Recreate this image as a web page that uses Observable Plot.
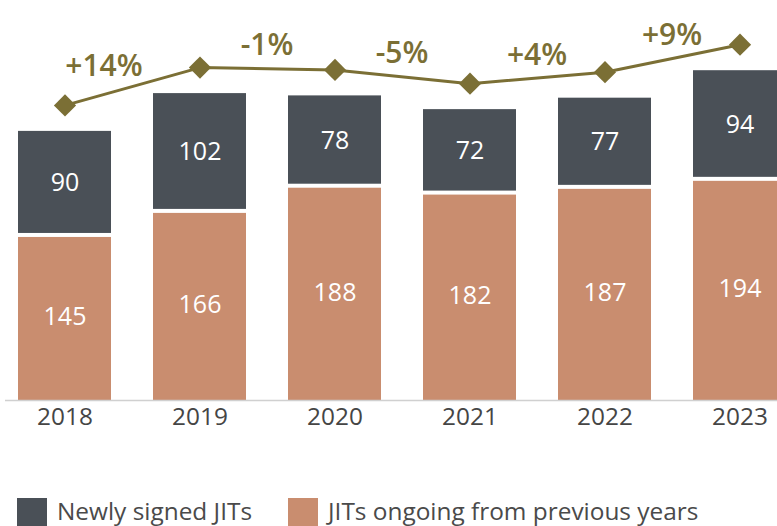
<!DOCTYPE html>
<html>
<head>
<meta charset="utf-8">
<script src="https://cdn.jsdelivr.net/npm/d3@7"></script>
<script src="https://cdn.jsdelivr.net/npm/@observablehq/plot@0.6"></script>
<style>
  html, body { margin: 0; padding: 0; background: #ffffff; overflow: hidden; width: 777px; height: 526px; }
  body { font-family: "Open Sans", "Noto Sans", sans-serif; }
  #chart svg { display: block; }
  .legend { display: flex; align-items: flex-start; margin-top: 53px; height: 40px; }
  .legend .item { display: flex; align-items: flex-start; }
  .legend .sw { width: 30px; height: 30px; margin-right: 10px; }
  .legend .lbl { font-size: 24.4px; color: #4a4a4a; line-height: 24px; margin-top: 1px; }
</style>
</head>
<body>
<div id="chart"></div>
<div class="legend">
  <div class="item" style="margin-left:17px"><div class="sw" style="background:#4a5057"></div><div class="lbl">Newly signed JITs</div></div>
  <div class="item" style="margin-left:36px"><div class="sw" style="background:#c98d6f"></div><div class="lbl">JITs ongoing from previous years</div></div>
</div>
<script>
const years = ["2018", "2019", "2020", "2021", "2022", "2023"];
const newlySigned = [90, 102, 78, 72, 77, 94];
const ongoing = [145, 166, 188, 182, 187, 194];
const changeLabels = ["+14%", "-1%", "-5%", "+4%", "+9%"];

const dark = "#4a5057";
const tan = "#c98d6f";
const olive = "#7b6f35";

const rows = years.map((y, i) => ({
  year: y,
  ongoing: ongoing[i],
  newly: newlySigned[i],
  total: ongoing[i] + newlySigned[i]
}));

const changes = changeLabels.map((t, i) => ({
  label: t,
  year: years[i + 1],
  mid: (rows[i].total + rows[i + 1].total) / 2
}));

const plot = Plot.plot({
  width: 777,
  height: 445,
  marginTop: 0,
  marginBottom: 45,
  marginLeft: 5,
  marginRight: 0,
  style: { fontFamily: "'Open Sans', 'Noto Sans', sans-serif", background: "#ffffff", overflow: "visible" },
  x: { domain: years, range: [17, 786.5], paddingInner: 0.313, paddingOuter: 0, label: null },
  y: { domain: [0, 349.3], axis: null },
  marks: [
    Plot.barY(rows, { x: "year", y1: 0, y2: "ongoing", fill: tan, insetTop: 3 }),
    Plot.barY(rows, { x: "year", y1: "ongoing", y2: "total", fill: dark, insetBottom: 1 }),
    Plot.ruleY([0], { stroke: "#d0d0d0", strokeWidth: 1.5 }),
    Plot.text(rows, { x: "year", y: d => d.ongoing / 2, text: d => String(d.ongoing), fill: "#ffffff", fontSize: 25 }),
    Plot.text(rows, { x: "year", y: d => d.ongoing + d.newly / 2, text: d => String(d.newly), fill: "#ffffff", fontSize: 25 }),
    Plot.line(rows, { x: "year", y: "total", dy: -26, stroke: olive, strokeWidth: 3 }),
    Plot.dot(rows, { x: "year", y: "total", dy: -26, symbol: "diamond2", r: 10, fill: olive, stroke: "none" }),
    Plot.text(changes.slice(0, 1), { x: "year", y: "mid", dx: -96, dy: -46, text: "label", fill: olive, fontSize: 30, fontWeight: 600 }),
    Plot.text(changes.slice(1), { x: "year", y: "mid", dx: -68, dy: -49, text: "label", fill: olive, fontSize: 30, fontWeight: 600 }),
    Plot.axisX({ tickSize: 0, tickPadding: 7, fontSize: 24.4, color: "#454545", label: null })
  ]
});
document.getElementById("chart").append(plot);
</script>
</body>
</html>
